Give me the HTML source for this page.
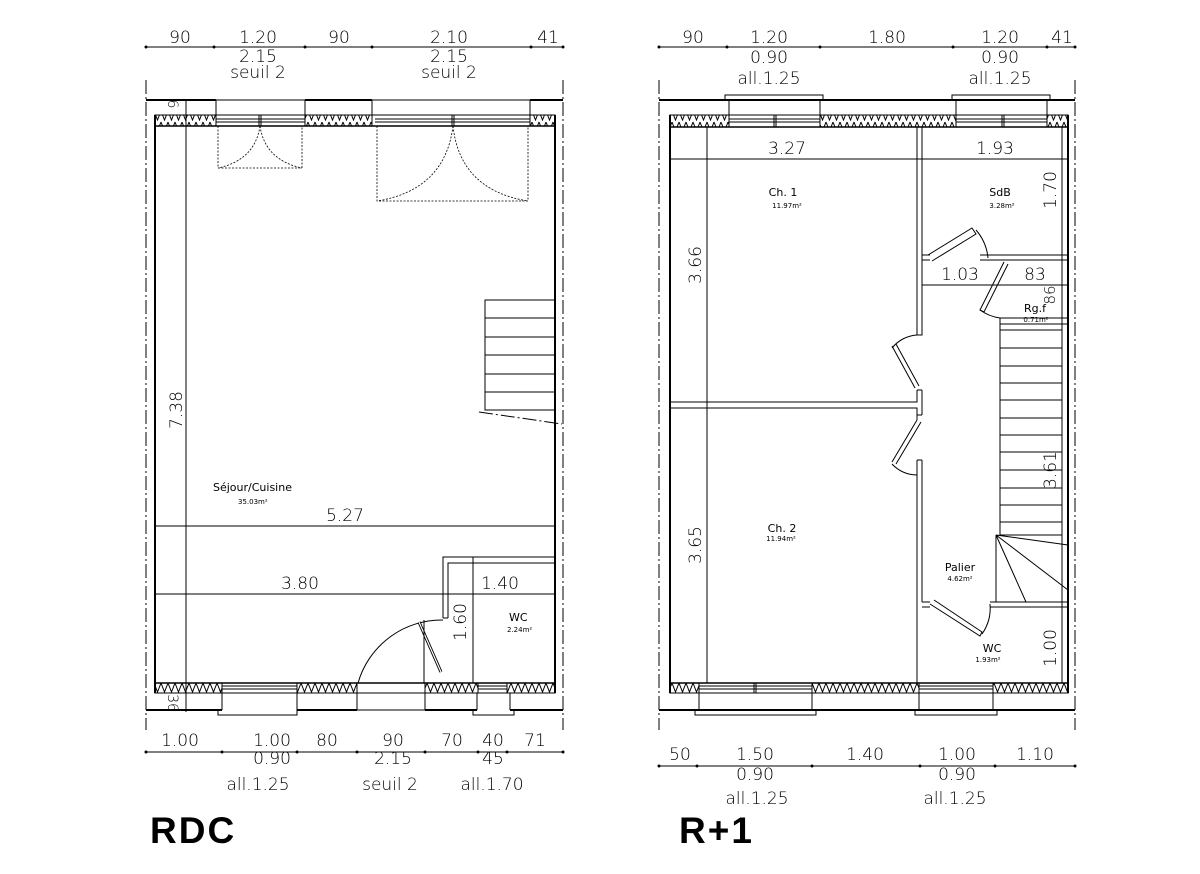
<!DOCTYPE html>
<html><head><meta charset="utf-8"><style>
html,body{margin:0;padding:0;background:#fff}
svg{display:block}
text{font-family:"DejaVu Sans","Liberation Sans",sans-serif;fill:#000}
.d{font-size:17px;font-weight:200}
.s{font-size:11px}
.t{font-size:7px}
</style></head><body>
<svg width="1200" height="874" viewBox="0 0 1200 874" xmlns="http://www.w3.org/2000/svg">
<defs>
<pattern id="h" width="7" height="11" patternUnits="userSpaceOnUse">
<path d="M0 1 L3.5 10 L7 1" fill="none" stroke="#000" stroke-width="1"/>
</pattern>
</defs>
<g stroke="#000" fill="none" stroke-width="1">
<!-- ================= RDC ================= -->
<line x1="146" y1="80" x2="146" y2="730" stroke-dasharray="14,3,2,3"/>
<line x1="563" y1="80" x2="563" y2="730" stroke-dasharray="14,3,2,3"/>
<line x1="146" y1="47" x2="563" y2="47"/>
<g fill="#000" stroke="none"><circle cx="146" cy="47" r="1.5"/><circle cx="214" cy="47" r="1.5"/><circle cx="305" cy="47" r="1.5"/><circle cx="372" cy="47" r="1.5"/><circle cx="531" cy="47" r="1.5"/><circle cx="563" cy="47" r="1.5"/></g>
<line x1="146" y1="100" x2="216" y2="100" stroke-width="2"/>
<line x1="305" y1="100" x2="372" y2="100" stroke-width="2"/>
<line x1="530" y1="100" x2="563" y2="100" stroke-width="2"/>
<line x1="216" y1="100" x2="530" y2="100"/>
<line x1="216" y1="100" x2="216" y2="115"/><line x1="305" y1="100" x2="305" y2="115"/>
<line x1="372" y1="100" x2="372" y2="115"/><line x1="530" y1="100" x2="530" y2="115"/>
<rect x="155" y="115" width="61" height="11" fill="url(#h)"/>
<rect x="305" y="115" width="67" height="11" fill="url(#h)"/>
<rect x="530" y="115" width="25" height="11" fill="url(#h)"/>
<line x1="155" y1="115" x2="555" y2="115"/>
<line x1="155" y1="126" x2="555" y2="126" stroke-width="1.5"/>
<line x1="216" y1="119" x2="305" y2="119"/><line x1="216" y1="122" x2="305" y2="122"/>
<line x1="375" y1="119" x2="530" y2="119"/><line x1="375" y1="122" x2="530" y2="122"/>
<line x1="259" y1="115" x2="259" y2="126"/><line x1="261" y1="115" x2="261" y2="126"/>
<line x1="452" y1="115" x2="452" y2="126"/><line x1="454" y1="115" x2="454" y2="126"/>
<g stroke-dasharray="2,1.5" stroke-width="0.8">
<path d="M218 126 V168 H302 V126"/>
<path d="M260 126 Q255 160 218 168"/><path d="M260 126 Q265 160 302 168"/>
<path d="M377 126 V201 H528 V126"/>
<path d="M453 126 Q445 190 377 201"/><path d="M453 126 Q460 190 528 201"/>
</g>
<line x1="155" y1="115" x2="155" y2="693" stroke-width="2"/>
<line x1="555" y1="115" x2="555" y2="693" stroke-width="2"/>
<line x1="186" y1="100" x2="186" y2="712"/>
<rect x="485" y="300" width="70" height="110"/>
<line x1="485" y1="318" x2="555" y2="318"/><line x1="485" y1="337" x2="555" y2="337"/>
<line x1="485" y1="355" x2="555" y2="355"/><line x1="485" y1="374" x2="555" y2="374"/>
<line x1="485" y1="392" x2="555" y2="392"/>
<line x1="479" y1="412" x2="562" y2="424" stroke-dasharray="14,3,2,3"/>
<line x1="155" y1="526" x2="555" y2="526"/>
<line x1="155" y1="594" x2="555" y2="594"/>
<path d="M443 618 V557 H555"/><path d="M448 618 V563 H555"/>
<line x1="443" y1="618" x2="448" y2="618"/>
<line x1="473" y1="557" x2="473" y2="683"/>
<path d="M358 683 A87 87 0 0 1 443 620"/>
<line x1="419" y1="622" x2="441" y2="672" stroke-width="3"/>
<line x1="419" y1="622" x2="441" y2="672" stroke="#fff" stroke-width="1.2"/>
<line x1="424" y1="620" x2="424" y2="683"/>
<rect x="155" y="683" width="67" height="10" fill="url(#h)"/>
<rect x="297" y="683" width="60" height="10" fill="url(#h)"/>
<rect x="425" y="683" width="53" height="10" fill="url(#h)"/>
<rect x="507" y="683" width="48" height="10" fill="url(#h)"/>
<line x1="155" y1="683" x2="555" y2="683" stroke-width="1.5"/>
<line x1="155" y1="693" x2="555" y2="693"/>
<line x1="222" y1="686" x2="297" y2="686"/><line x1="222" y1="689" x2="297" y2="689"/>
<line x1="478" y1="686" x2="507" y2="686"/><line x1="478" y1="689" x2="507" y2="689"/>
<path d="M146 710 H222 M297 710 H357 M425 710 H477 M510 710 H563" stroke-width="2"/>
<path d="M222 693 V710 M297 693 V710 M357 693 V710 M425 693 V710 M477 693 V710 M510 693 V710"/>
<path d="M218 710 V715 H297 V710 M473 710 V715 H514 V710"/>
<line x1="357" y1="710" x2="425" y2="710"/>
<line x1="146" y1="752" x2="563" y2="752"/>
<g fill="#000" stroke="none"><circle cx="146" cy="752" r="1.5"/><circle cx="222" cy="752" r="1.5"/><circle cx="297" cy="752" r="1.5"/><circle cx="357" cy="752" r="1.5"/><circle cx="425" cy="752" r="1.5"/><circle cx="478" cy="752" r="1.5"/><circle cx="507" cy="752" r="1.5"/><circle cx="563" cy="752" r="1.5"/></g>

<!-- ================= R+1 ================= -->
<line x1="659" y1="80" x2="659" y2="730" stroke-dasharray="14,3,2,3"/>
<line x1="1075" y1="80" x2="1075" y2="730" stroke-dasharray="14,3,2,3"/>
<line x1="659" y1="47" x2="1075" y2="47"/>
<g fill="#000" stroke="none"><circle cx="659" cy="47" r="1.5"/><circle cx="727" cy="47" r="1.5"/><circle cx="820" cy="47" r="1.5"/><circle cx="953" cy="47" r="1.5"/><circle cx="1047" cy="47" r="1.5"/><circle cx="1075" cy="47" r="1.5"/></g>
<path d="M659 100 H1075" stroke-width="2"/>
<path d="M725 100 V95 H823 V100 M952 100 V95 H1050 V100"/>
<path d="M729 100 V115 M820 100 V115 M956 100 V115 M1047 100 V115"/>
<rect x="670" y="115" width="59" height="12" fill="url(#h)"/>
<rect x="820" y="115" width="136" height="12" fill="url(#h)"/>
<rect x="1047" y="115" width="21" height="12" fill="url(#h)"/>
<line x1="670" y1="115" x2="1068" y2="115"/>
<line x1="670" y1="127" x2="1068" y2="127" stroke-width="1.5"/>
<path d="M729 119 H820 M729 122 H820 M956 119 H1047 M956 122 H1047"/>
<path d="M774 115 V127 M776 115 V127 M1002 115 V127 M1004 115 V127"/>
<line x1="670" y1="115" x2="670" y2="693" stroke-width="2"/>
<line x1="1068" y1="115" x2="1068" y2="693" stroke-width="2"/>
<line x1="1062" y1="127" x2="1062" y2="683"/>
<line x1="670" y1="159" x2="1068" y2="159"/>
<line x1="707" y1="127" x2="707" y2="683"/>
<line x1="922" y1="285" x2="1068" y2="285"/>
<path d="M917 127 V335 H922 V127"/>
<path d="M917 390 V402 H670 M922 390 V415"/>
<path d="M670 408 H917 V415"/>
<path d="M917 415 H922 M917 390 H922"/>
<path d="M917 415 V420 M922 460 V602 M917 460 V683 M917 460 H922"/>
<path d="M917 335 A35 35 0 0 0 892 348"/>
<path d="M892 346 L915 388 M896 344 L919 386"/>
<path d="M917 420 L892 462 M921 422 L896 464"/>
<path d="M892 464 A35 35 0 0 0 917 475"/>
<path d="M922 255 H930 M980 255 H1068 M922 260 H930 M980 260 H1068"/>
<path d="M928 255 L972 228 L976 234 L932 261"/>
<path d="M976 230 A50 50 0 0 1 988 258"/>
<path d="M1000 318 H1068 M1000 324 H1068 M1000 318 V330"/>
<path d="M1004 262 L980 310 L984 312 L1008 264"/>
<path d="M980 310 A45 45 0 0 0 1000 318"/>
<rect x="1000" y="330" width="62" height="205"/>
<path d="M1000 348 H1062 M1000 366 H1062 M1000 383 H1062 M1000 400 H1062 M1000 418 H1062 M1000 435 H1062 M1000 452 H1062 M1000 470 H1062 M1000 488 H1062 M1000 505 H1062 M1000 522 H1062"/>
<path d="M996 535 V602 M996 535 L1068 545 M996 535 L1068 590 M996 535 L1026 602"/>
<path d="M922 602 H930 M990 602 H1068 M922 607 H930 M990 607 H1068"/>
<path d="M930 604 L980 636 L982 632 L934 600"/>
<path d="M982 634 A45 45 0 0 0 990 604"/>
<rect x="670" y="683" width="29" height="10" fill="url(#h)"/>
<rect x="812" y="683" width="107" height="10" fill="url(#h)"/>
<rect x="993" y="683" width="75" height="10" fill="url(#h)"/>
<line x1="670" y1="683" x2="1068" y2="683" stroke-width="1.5"/>
<line x1="670" y1="693" x2="1068" y2="693"/>
<path d="M699 686 H812 M699 689 H812 M919 686 H993 M919 689 H993 M754 683 V693 M756 683 V693"/>
<path d="M659 710 H1075" stroke-width="2"/>
<path d="M699 693 V710 M812 693 V710 M919 693 V710 M993 693 V710"/>
<path d="M695 710 V715 H816 V710 M915 710 V715 H997 V710"/>
<line x1="659" y1="766" x2="1075" y2="766"/>
<g fill="#000" stroke="none"><circle cx="659" cy="766" r="1.5"/><circle cx="697" cy="766" r="1.5"/><circle cx="812" cy="766" r="1.5"/><circle cx="920" cy="766" r="1.5"/><circle cx="995" cy="766" r="1.5"/><circle cx="1075" cy="766" r="1.5"/></g>
</g>

<g class="d" text-anchor="middle">
<text x="180" y="43">90</text><text x="258" y="43">1.20</text><text x="339" y="43">90</text><text x="449" y="43">2.10</text><text x="548" y="43">41</text>
<text x="258" y="62">2.15</text><text x="449" y="62">2.15</text>
<text x="258" y="78">seuil   2</text><text x="449" y="78">seuil   2</text>
<text x="345" y="521">5.27</text>
<text x="300" y="589">3.80</text><text x="500" y="589">1.40</text>
<text x="180" y="746">1.00</text><text x="272" y="746">1.00</text><text x="327" y="746">80</text><text x="393" y="746">90</text><text x="452" y="746">70</text><text x="493" y="746">40</text><text x="535" y="746">71</text>
<text x="272" y="764">0.90</text><text x="393" y="764">2.15</text><text x="493" y="764">45</text>
<text x="258" y="790">all.1.25</text><text x="390" y="790">seuil   2</text><text x="492" y="790">all.1.70</text>
<text transform="translate(182,410) rotate(-90)">7.38</text>
<text transform="translate(466,622) rotate(-90)">1.60</text>
<text transform="translate(168,104) rotate(90)" style="font-size:14px">6</text>
<text transform="translate(168,703) rotate(90)" style="font-size:14px">36</text>
</g>
<text class="s" x="213" y="491">Séjour/Cuisine</text>
<text class="t" x="238" y="504">35.03m²</text>
<text class="s" x="509" y="621">WC</text>
<text class="t" x="507" y="632">2.24m²</text>

<g class="d" text-anchor="middle">
<text x="693" y="43">90</text><text x="769" y="43">1.20</text><text x="887" y="43">1.80</text><text x="1000" y="43">1.20</text><text x="1062" y="43">41</text>
<text x="769" y="63">0.90</text><text x="1000" y="63">0.90</text>
<text x="769" y="84">all.1.25</text><text x="1000" y="84">all.1.25</text>
<text x="787" y="154">3.27</text><text x="995" y="154">1.93</text>
<text x="960" y="280">1.03</text><text x="1035" y="280">83</text>
<text transform="translate(701,265) rotate(-90)">3.66</text>
<text transform="translate(701,545) rotate(-90)">3.65</text>
<text transform="translate(1056,190) rotate(-90)">1.70</text>
<text transform="translate(1056,470) rotate(-90)">3.61</text>
<text transform="translate(1056,648) rotate(-90)">1.00</text>
<text transform="translate(1055,295) rotate(-90)" style="font-size:15px">86</text>
<text x="680" y="760">50</text><text x="755" y="760">1.50</text><text x="865" y="760">1.40</text><text x="957" y="760">1.00</text><text x="1035" y="760">1.10</text>
<text x="755" y="780">0.90</text><text x="957" y="780">0.90</text>
<text x="757" y="804">all.1.25</text><text x="955" y="804">all.1.25</text>
</g>
<g text-anchor="middle">
<text class="s" x="783" y="196">Ch. 1</text><text class="t" x="787" y="208">11.97m²</text>
<text class="s" x="1000" y="196">SdB</text><text class="t" x="1002" y="208">3.28m²</text>
<text class="s" x="1035" y="312">Rg.f</text><text class="t" x="1036" y="322">0.71m²</text>
<text class="s" x="782" y="532">Ch. 2</text><text class="t" x="781" y="541">11.94m²</text>
<text class="s" x="960" y="571">Palier</text><text class="t" x="960" y="581">4.62m²</text>
<text class="s" x="992" y="652">WC</text><text class="t" x="988" y="662">1.93m²</text>
</g>

<text x="150" y="843" style="font-family:'Liberation Sans',sans-serif;font-weight:bold;font-size:37px;letter-spacing:2px">RDC</text>
<text x="679" y="843" style="font-family:'Liberation Sans',sans-serif;font-weight:bold;font-size:37px;letter-spacing:2px">R+1</text>
</svg>
</body></html>
